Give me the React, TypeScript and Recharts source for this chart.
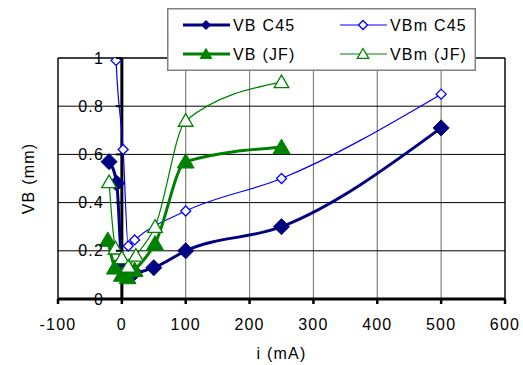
import React from "react";
import {
  LineChart,
  Line,
  XAxis,
  YAxis,
  CartesianGrid,
  ReferenceLine,
  Legend,
} from "recharts";

// ---------------------- DATA ----------------------
const xTicks = [-100, 0, 100, 200, 300, 400, 500, 600];
const yTicks = [0, 0.2, 0.4, 0.6, 0.8, 1];

const vbC45X = [-20, -8, 0, 10, 20, 50, 100, 250, 500];
const vbC45Y = [0.57, 0.48, 0.15, 0.12, 0.11, 0.13, 0.2, 0.3, 0.71];

const vbmC45X = [-12, -9, 2, 10, 20, 100, 250, 500];
const vbmC45Y = [1.2, 0.99, 0.62, 0.22, 0.245, 0.365, 0.5, 0.85];

const vbJfX = [-22, -11, 0, 9, 20, 52, 100, 250];
const vbJfY = [0.245, 0.13, 0.1, 0.09, 0.12, 0.23, 0.57, 0.63];

const vbmJfX = [-20, -10, 0, 10, 22, 52, 100, 250];
const vbmJfY = [0.485, 0.21, 0.17, 0.135, 0.18, 0.3, 0.74, 0.9];

const toPoints = (xs: number[], ys: number[]) => xs.map((x, i) => ({ x, y: ys[i] }));

// ---------------------- LAYOUT ----------------------
const W = 523;
const H = 365;
const M = { top: 58, right: 18, bottom: 36, left: 28 };
const Y_AXIS_W = 30;
const X_MIN = -100;
const X_MAX = 600;
const PLOT_LEFT = M.left + Y_AXIS_W;
const PLOT_W = W - PLOT_LEFT - M.right;
const ZERO_X = PLOT_LEFT + ((0 - X_MIN) / (X_MAX - X_MIN)) * PLOT_W;

const NAVY = "#000080";
const BLUE = "#0000FF";
const GREEN = "#008000";
const FONT = "'Liberation Sans', Arial, sans-serif";

type Shape = "diamond" | "triangle";

function marker(shape: Shape, cx: number, cy: number, r: number, fill: string, stroke: string, sw: number, key?: any) {
  const pts =
    shape === "diamond"
      ? `${cx},${cy - r} ${cx + r},${cy} ${cx},${cy + r} ${cx - r},${cy}`
      : `${cx},${cy - r} ${cx + r * 1.05},${cy + r * 0.8} ${cx - r * 1.05},${cy + r * 0.8}`;
  return <polygon key={key} points={pts} fill={fill} stroke={stroke} strokeWidth={sw} />;
}

const makeDot = (shape: Shape, r: number, fill: string, stroke: string, sw: number) => (p: any) => {
  if (p.cx == null || p.cy == null) return <g key={p.index} />;
  return marker(shape, p.cx, p.cy, r, fill, stroke, sw, p.index);
};

const series = [
  { name: "VB C45", data: toPoints(vbC45X, vbC45Y), color: NAVY, width: 3, shape: "diamond" as Shape, r: 8, fill: NAVY, msw: 1 },
  { name: "VBm C45", data: toPoints(vbmC45X, vbmC45Y), color: BLUE, width: 1.2, shape: "diamond" as Shape, r: 5, fill: "#fff", msw: 1.3 },
  { name: "VB (JF)", data: toPoints(vbJfX, vbJfY), color: GREEN, width: 3, shape: "triangle" as Shape, r: 8, fill: GREEN, msw: 1 },
  { name: "VBm (JF)", data: toPoints(vbmJfX, vbmJfY), color: GREEN, width: 1.2, shape: "triangle" as Shape, r: 7, fill: "#fff", msw: 1.3 },
];

const YTick = (props: any) => {
  const { y, payload } = props;
  return (
    <g>
      <line x1={ZERO_X - 6} x2={ZERO_X} y1={y} y2={y} stroke="#000" strokeWidth={2} />
      <text
        x={104}
        y={y}
        dy={5.5}
        textAnchor="end"
        fontFamily={FONT}
        fontSize={16}
        letterSpacing={1.2}
        fill="#000"
      >
        {payload.value}
      </text>
    </g>
  );
};

const LegendBox = () => {
  const cols = [16, 173];
  const rows = [17, 46];
  return (
    <svg width={309} height={63} style={{ display: "block" }}>
      <rect x={0.75} y={0.75} width={307.5} height={61.5} fill="#fff" stroke="#808080" strokeWidth={1.5} />
      {series.map((s, i) => {
        const cx = cols[i % 2];
        const cy = rows[Math.floor(i / 2)];
        const mid = cx + 23;
        return (
          <g key={s.name}>
            <line x1={cx} x2={cx + 47} y1={cy} y2={cy} stroke={s.color} strokeWidth={s.width} />
            {marker(s.shape, mid, cy, s.shape === "diamond" ? 4.5 : 5.5, s.fill, s.color, s.msw)}
            <text
              x={cx + 50}
              y={cy + 6}
              fontFamily={FONT}
              fontSize={16}
              letterSpacing={1.2}
              fill="#000"
            >
              {s.name}
            </text>
          </g>
        );
      })}
    </svg>
  );
};

export default function App() {
  return (
    <div style={{ position: "absolute", left: 0, top: 0, width: W, height: H, background: "#fff" }}>
      <LineChart width={W} height={H} margin={M}>
        <CartesianGrid horizontal={false} stroke="#808080" strokeWidth={1.2} verticalValues={xTicks} />
        <CartesianGrid vertical={false} stroke="#000" strokeWidth={1} horizontalValues={yTicks} />
        <XAxis
          type="number"
          dataKey="x"
          domain={[X_MIN, X_MAX]}
          ticks={xTicks}
          interval={0}
          allowDataOverflow
          height={30}
          tickSize={5}
          tickMargin={15}
          axisLine={{ stroke: "#000", strokeWidth: 3 }}
          tickLine={{ stroke: "#000", strokeWidth: 2.5 }}
          tick={{ fill: "#000", fontFamily: FONT, fontSize: 16, letterSpacing: 1.2 }}
          label={{
            value: "i (mA)",
            position: "bottom",
            offset: 19,
            fill: "#000",
            fontFamily: FONT,
            fontSize: 16,
            letterSpacing: 1.2,
          }}
        />
        <YAxis
          type="number"
          dataKey="y"
          domain={[0, 1]}
          ticks={yTicks}
          interval={0}
          allowDataOverflow
          width={Y_AXIS_W}
          axisLine={false}
          tickLine={false}
          tick={<YTick />}
          label={{
            value: "VB (mm)",
            angle: -90,
            position: "insideLeft",
            offset: 0,
            fill: "#000",
            fontFamily: FONT,
            fontSize: 16,
            letterSpacing: 1.2,
            style: { textAnchor: "middle" },
          }}
        />
        <ReferenceLine x={X_MIN} stroke="#000" strokeWidth={1.2} />
        <ReferenceLine x={X_MAX} stroke="#000" strokeWidth={1.2} />
        <ReferenceLine y={1} stroke="#000" strokeWidth={1.2} />
        <ReferenceLine x={0} stroke="#000" strokeWidth={3} />
        {series.map((s) => (
          <Line
            key={s.name}
            data={s.data}
            dataKey="y"
            name={s.name}
            type="monotone"
            stroke={s.color}
            strokeWidth={s.width}
            dot={makeDot(s.shape, s.r, s.fill, s.color, s.msw)}
            activeDot={false}
            isAnimationActive={false}
          />
        ))}
        <Legend
          layout="vertical"
          align="center"
          verticalAlign="middle"
          content={() => <LegendBox />}
          wrapperStyle={{ left: 167, top: 8, width: 309, height: 63 }}
        />
      </LineChart>
    </div>
  );
}
